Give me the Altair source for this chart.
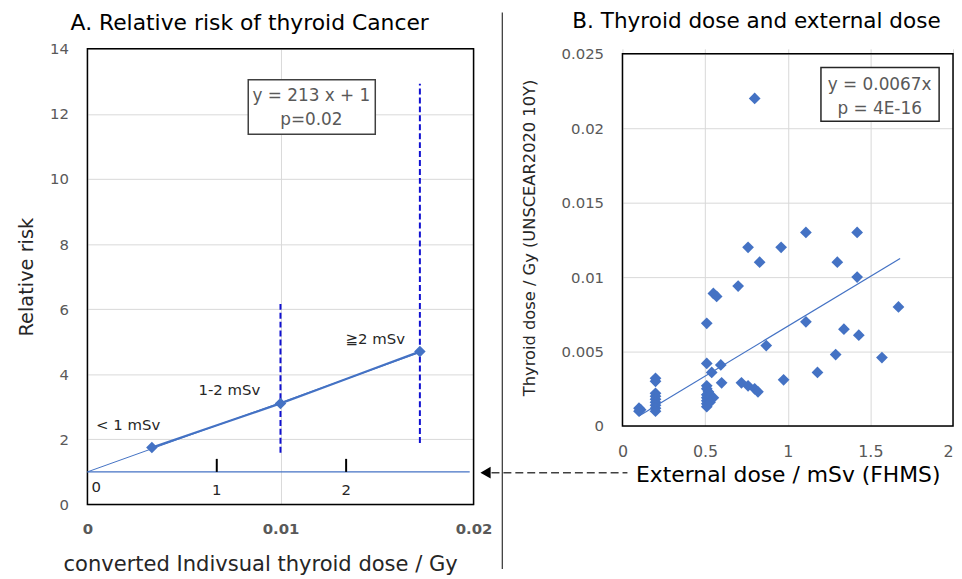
import altair as alt
import pandas as pd

# ---------------- Panel A: relative risk ----------------
grp_names = ["< 1 mSv", "1-2 mSv", "≧2 mSv"]
grp_dose = [0.00334, 0.0100, 0.01722]
grp_rr = [1.75, 3.10, 4.70]
ci_dose = [0.0100, 0.01722]
ci_low = [1.59, 1.89]
ci_high = [6.16, 12.93]
a_slope, a_icpt = 213, 1
ext_ticks = [0, 1, 2]          # external dose (mSv) secondary scale
b_slope = 0.0067               # Gy per mSv (panel B fit)
a_xticks = [0, 0.01, 0.02]
a_yticks = [0, 2, 4, 6, 8, 10, 12, 14]

# ---------------- Panel B: thyroid vs external dose ----------------
ext_dose = [0.80, 1.11, 1.42, 0.76, 0.96, 0.83, 1.30, 1.42, 0.70, 0.55,
            0.57, 1.67, 0.51, 1.11, 1.34, 1.43, 0.87, 1.29, 1.57, 0.51,
            0.595, 0.54, 1.18, 0.975, 0.60, 0.72, 0.76, 0.80, 0.82, 0.20,
            0.20, 0.20, 0.20, 0.20, 0.20, 0.20, 0.20, 0.20,
            0.10, 0.11, 0.10,
            0.51, 0.51, 0.52, 0.51, 0.51, 0.51, 0.51, 0.51, 0.55, 0.53]
thy_dose = [0.0220, 0.0130, 0.0130, 0.0120, 0.0120, 0.0110, 0.0110, 0.0100, 0.0094, 0.0089,
            0.0087, 0.0080, 0.0069, 0.0070, 0.0065, 0.0061, 0.0054, 0.0048, 0.0046, 0.0042,
            0.0041, 0.0036, 0.0036, 0.0031, 0.0029, 0.0029, 0.0027, 0.0025, 0.0023, 0.0032,
            0.0030, 0.0022, 0.0020, 0.0018, 0.0016, 0.0014, 0.0012, 0.0010,
            0.0012, 0.0011, 0.0010,
            0.0027, 0.0025, 0.0023, 0.0021, 0.0019, 0.0017, 0.0015, 0.0013, 0.0019, 0.0016]
b_xticks = [0, 0.5, 1, 1.5, 2]
b_yticks = [0, 0.005, 0.01, 0.015, 0.02, 0.025]
b_fit_range = [0.10, 1.68]

title_a = "A. Relative risk of thyroid Cancer"
title_b = "B. Thyroid dose and external dose"

BLUE = "#4472C4"
CI = "#0F0FD0"
GRID = "#d9d9d9"
LAB = "#595959"
TXT = "#262626"
FONT = "DejaVu Sans"


def df(**cols):
    return pd.DataFrame(cols)


# ---------------- Panel A chart ----------------
xs_a = alt.Scale(domain=[0, 0.02], nice=False, zero=False)
ys_a = alt.Scale(domain=[0, 14], nice=False, zero=False)
ax_xa = alt.Axis(values=a_xticks, format="~g", labelFlush=False, ticks=False, domain=False,
                 grid=True, gridColor=GRID, labelFontSize=15, labelFontWeight="bold",
                 labelColor=LAB, labelPadding=17,
                 title="converted Indivsual thyroid dose / Gy", titleFontSize=21.2,
                 titleFontWeight="normal", titleColor=TXT, titleX=174, titleY=67,
                 titleBaseline="alphabetic", titleAlign="center")
ax_ya = alt.Axis(values=a_yticks, ticks=False, domain=False, grid=True, gridColor=GRID,
                 labelFontSize=15, labelColor=LAB, labelPadding=19,
                 title="Relative risk", titleFontSize=19.5, titleFontWeight="normal",
                 titleColor=TXT, titleX=-55, titleBaseline="alphabetic")
XA = alt.X("x:Q", scale=xs_a, axis=ax_xa)
YA = alt.Y("y:Q", scale=ys_a, axis=ax_ya)

frame_a = alt.Chart(df(x=[0], x2=[0.02], y=[0], y2=[14])).mark_rect(
    fillOpacity=0, stroke="#000", strokeWidth=1.5).encode(x=XA, x2="x2:Q", y=YA, y2="y2:Q")

# white (invisible) anchor fixing the left edge of the drawing
anchor = alt.Chart(df(x=[-0.004062], y=[7], y2=[7.2])).mark_rule(
    strokeWidth=1, color="#ffffff").encode(x=XA, y=YA, y2="y2:Q")

base_line = alt.Chart(df(x=[0], x2=[0.0198], y=[1])).mark_rule(
    color=BLUE, strokeWidth=1.2).encode(x=XA, x2="x2:Q", y=YA)

ext_pos = [v * b_slope for v in ext_ticks]
tick_marks = alt.Chart(df(x=ext_pos[1:], y=[1] * 2, y2=[1.40] * 2)).mark_rule(
    color="#000", strokeWidth=2).encode(x=XA, y=YA, y2="y2:Q")
tick_labels = alt.Chart(df(x=ext_pos[1:], y=[0.43] * 2, t=[str(v) for v in ext_ticks[1:]])).mark_text(
    fontSize=15, color=TXT, baseline="middle").encode(x=XA, y=YA, text="t:N")
tick_label0 = alt.Chart(df(x=ext_pos[:1], y=[0.52], t=[str(ext_ticks[0])])).mark_text(
    fontSize=15, color=TXT, baseline="middle", dx=9).encode(x=XA, y=YA, text="t:N")

ci_rules = alt.Chart(df(x=ci_dose, y=ci_low, y2=ci_high)).mark_rule(
    color=CI, strokeWidth=2, strokeDash=[6, 3]).encode(x=XA, y=YA, y2="y2:Q")

trend_a = alt.Chart(df(x=[0, grp_dose[-1]],
                       y=[a_icpt, a_slope * grp_dose[-1] + a_icpt])).mark_line(
    color=BLUE, strokeWidth=1).encode(x=XA, y=YA)

data_line = alt.Chart(df(x=grp_dose, y=grp_rr)).mark_line(
    color=BLUE, strokeWidth=2.2).encode(x=XA, y=YA)
diamonds_a = alt.Chart(df(x=grp_dose, y=grp_rr)).mark_point(
    shape="diamond", filled=True, size=135, color=BLUE, opacity=1).encode(x=XA, y=YA)

grp_text = alt.Chart(df(x=[0.00211, 0.00735, 0.01491], y=[2.44, 3.51, 5.09], t=grp_names)).mark_text(
    fontSize=15, color=TXT, baseline="middle").encode(x=XA, y=YA, text="t:N")

box_a = alt.Chart(df(x=[0.00833], x2=[0.01491], y=[11.375], y2=[13.05])).mark_rect(
    fill="#ffffff", stroke="#404040", strokeWidth=1.5).encode(x=XA, x2="x2:Q", y=YA, y2="y2:Q")
box_a_text = alt.Chart(df(x=[0.0116, 0.0116], y=[12.56, 11.80],
                          t=[f"y = {a_slope} x + {a_icpt}", "p=0.02"])).mark_text(
    fontSize=17, color=LAB, baseline="middle").encode(x=XA, y=YA, text="t:N")

head_a = alt.Chart(df(x=[0.008406], y=[15.098], t=[title_a])).mark_text(
    fontSize=22, color="#000", baseline="top").encode(x=XA, y=YA, text="t:N")

separator = alt.Chart(df(x=[0.02149], y=[-1.983], y2=[15.119])).mark_rule(
    color="#404040", strokeWidth=1.3).encode(x=XA, y=YA, y2="y2:Q")
arrow_line = alt.Chart(df(x=[0.02093], x2=[0.02797], y=[0.976])).mark_rule(
    color="#404040", strokeWidth=1.5, strokeDash=[8, 4]).encode(x=XA, x2="x2:Q", y=YA)
arrow_head = alt.Chart(df(x=[0.02062], y=[0.976])).mark_point(
    shape="triangle-left", filled=True, size=140, color="#000", opacity=1).encode(x=XA, y=YA)

left = alt.layer(frame_a, anchor, base_line, tick_marks, tick_labels, tick_label0, ci_rules,
                 trend_a, data_line, diamonds_a, grp_text, box_a, box_a_text, head_a,
                 separator, arrow_line, arrow_head).properties(width=389, height=459)

# ---------------- Panel B chart ----------------
xs_b = alt.Scale(domain=[0, 2], nice=False, zero=False)
ys_b = alt.Scale(domain=[0, 0.025 * 380 / 375], nice=False, zero=False)
ax_xb = alt.Axis(values=b_xticks, format="~g", labelFlush=False, ticks=False, domain=False,
                 grid=True, gridColor=GRID, labelFontSize=16, labelColor=LAB, labelPadding=18,
                 labelAlign={"expr": "datum.value == 2 ? 'right' : 'center'"},
                 title="External dose / mSv (FHMS)", titleFontSize=22, titleFontWeight="normal",
                 titleColor="#000", titleY=56, titleBaseline="alphabetic")
ax_yb = alt.Axis(values=b_yticks, format="~g", ticks=False, domain=False, grid=True,
                 gridColor=GRID, labelFontSize=15, labelColor=LAB, labelPadding=19,
                 title="Thyroid dose / Gy (UNSCEAR2020 10Y)", titleFontSize=16.4,
                 titleFontWeight="normal", titleColor=TXT, titleX=-89,
                 titleBaseline="alphabetic")
XB = alt.X("x:Q", scale=xs_b, axis=ax_xb)
YB = alt.Y("y:Q", scale=ys_b, axis=ax_yb)

frame_b = alt.Chart(df(x=[0], x2=[2], y=[0], y2=[0.025])).mark_rect(
    fillOpacity=0, stroke="#000", strokeWidth=1.5).encode(x=XB, x2="x2:Q", y=YB, y2="y2:Q")
trend_b = alt.Chart(df(x=b_fit_range, y=[b_slope * v for v in b_fit_range])).mark_line(
    color=BLUE, strokeWidth=1.2).encode(x=XB, y=YB)
points_b = alt.Chart(df(x=ext_dose, y=thy_dose)).mark_point(
    shape="diamond", filled=True, size=140, color=BLUE, opacity=1).encode(x=XB, y=YB)
box_b = alt.Chart(df(x=[1.201], x2=[1.916], y=[0.02047], y2=[0.02407])).mark_rect(
    fill="#ffffff", stroke="#262626", strokeWidth=1.5).encode(x=XB, x2="x2:Q", y=YB, y2="y2:Q")
box_b_text = alt.Chart(df(x=[1.556, 1.556], y=[0.02293, 0.02127],
                          t=[f"y = {b_slope}x", "p = 4E-16"])).mark_text(
    fontSize=17, color=LAB, baseline="middle").encode(x=XB, y=YB, text="t:N")
head_b = alt.Chart(df(x=[0.811], y=[0.027867], t=[title_b])).mark_text(
    fontSize=21.7, color="#000", baseline="top").encode(x=XB, y=YB, text="t:N")

right = alt.layer(frame_b, trend_b, points_b, box_b, box_b_text, head_b).properties(
    width=333, height=380)

chart = alt.hconcat(left, right, spacing=150, bounds="flush").properties(
    padding={"left": 0, "top": 0, "right": 0, "bottom": 0}
).configure(font=FONT).configure_view(strokeWidth=0).configure_text(font=FONT)

chart.save("out.html", embed_options={"renderer": "svg", "actions": False})
